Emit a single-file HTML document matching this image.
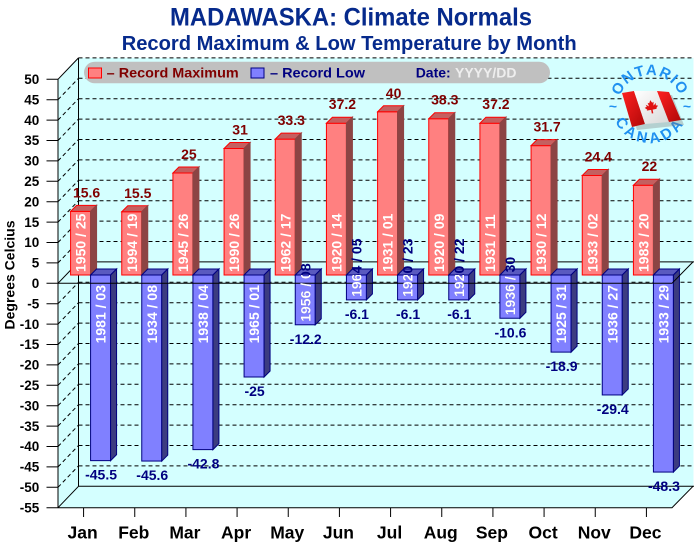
<!DOCTYPE html>
<html><head><meta charset="utf-8"><style>
html,body{margin:0;padding:0;background:#fff;}
svg{display:block;font-family:"Liberation Sans",Arial,sans-serif;font-weight:bold;}
</style></head><body>
<svg width="694" height="545" viewBox="0 0 694 545" xmlns="http://www.w3.org/2000/svg">
<rect x="0" y="0" width="694" height="545" fill="#fff"/>
<!-- walls -->
<rect x="78.5" y="57.9" width="615" height="428.4" fill="#D4FFFF"/>
<polygon points="58,79.3 78.5,57.9 78.5,486.3 58,507.7" fill="#D4FFFF"/>
<polygon points="58,507.7 672,507.7 693,486.3 78.5,486.3" fill="#D4FFFF"/>
<!-- back gridlines -->
<g stroke="#000" stroke-width="1" stroke-dasharray="4,3" fill="none">
<path d="M78.5 57.9H694M78.5 78.3H694M78.5 98.7H694M78.5 119.1H694M78.5 139.5H694M78.5 159.9H694M78.5 180.3H694M78.5 200.7H694M78.5 221.1H694M78.5 241.5H694M78.5 282.3H694M78.5 302.7H694M78.5 323.1H694M78.5 343.5H694M78.5 363.9H694M78.5 384.3H694M78.5 404.7H694M78.5 425.1H694M78.5 445.5H694M78.5 465.9H694"/>
<path d="M58 99.7L78.5 78.3M58 120.1L78.5 98.7M58 140.5L78.5 119.1M58 160.9L78.5 139.5M58 181.3L78.5 159.9M58 201.7L78.5 180.3M58 222.1L78.5 200.7M58 242.5L78.5 221.1M58 262.9L78.5 241.5M58 303.7L78.5 282.3M58 324.1L78.5 302.7M58 344.5L78.5 323.1M58 364.9L78.5 343.5M58 385.3L78.5 363.9M58 405.7L78.5 384.3M58 426.1L78.5 404.7M58 446.5L78.5 425.1M58 466.9L78.5 445.5M58 487.3L78.5 465.9"/>
</g>
<!-- solid frame lines -->
<g stroke="#000" stroke-width="1" fill="none">
<path d="M58 79.3V507.7M58 79.3L78.5 57.9M78.5 57.9V486.3M58 507.7L78.5 486.3M78.5 486.3H694M58 507.7H672L693 486.3"/>
<path d="M78.5 261.9H694M58 283.3L78.5 261.9"/>
</g>
<!-- legend -->
<rect x="84" y="61.7" width="466" height="21.6" rx="10.8" fill="#C0C0C0"/>
<rect x="88.5" y="68" width="13" height="10" fill="#FF8080" stroke="#FF0000"/>
<rect x="251" y="68" width="13" height="10" fill="#8080FF" stroke="#000080"/>
<g font-size="14">
<text x="106.7" y="77.3" fill="#800000" textLength="132" lengthAdjust="spacingAndGlyphs">– Record Maximum</text>
<text x="270" y="77.3" fill="#000080" textLength="95" lengthAdjust="spacingAndGlyphs">– Record Low</text>
<text x="415.7" y="77.3" fill="#000080">Date:</text>
<text x="455" y="77.3" fill="#EEEEEE">YYYY/DD</text>
</g>
<!-- titles -->
<text x="170" y="25.7" font-size="25" fill="#062a8c" textLength="362" lengthAdjust="spacingAndGlyphs">MADAWASKA: Climate Normals</text>
<text x="121.7" y="49.8" font-size="20.5" fill="#062a8c" textLength="455" lengthAdjust="spacingAndGlyphs">Record Maximum &amp; Low Temperature by Month</text>
<!-- logo -->
<defs>
<path id="arcTop" d="M 618,107 A 32 32 0 0 1 682,107" fill="none"/>
<path id="arcBot" d="M 611,104 A 39 39 0 0 0 689,104" fill="none"/>
<linearGradient id="fr" x1="0" y1="0" x2="1" y2="1"><stop offset="0" stop-color="#FF2020"/><stop offset="1" stop-color="#B00808"/></linearGradient>
<linearGradient id="fw" x1="0" y1="0" x2="1" y2="1"><stop offset="0" stop-color="#FFFFFF"/><stop offset="1" stop-color="#D8D8D8"/></linearGradient>
</defs>
<g fill="#2090F0">
<text font-size="15" letter-spacing="1.5"><textPath href="#arcTop" startOffset="50%" text-anchor="middle">ONTARIO</textPath></text>
<text font-size="15" letter-spacing="3.5"><textPath href="#arcBot" startOffset="50%" text-anchor="middle">CANADA</textPath></text>
<text x="613" y="111" font-size="14" text-anchor="middle">~</text>
<text x="687" y="111" font-size="14" text-anchor="middle">~</text>
</g>
<polygon points="626,97 672,95 684,125 637,130" fill="#777" opacity="0.35"/>
<polygon points="622,93 634,91 645,124 632,127" fill="url(#fr)"/>
<polygon points="634,91 657,91 669,122 645,124" fill="url(#fw)"/>
<polygon points="657,91 669,92 681,120 669,122" fill="url(#fr)"/>
<polygon transform="translate(651.5,107.5) rotate(-10) scale(0.75)" fill="#E01010" points="0,-10 2,-6 4,-7 3,-2 7,-5 6,-2 9,-1 6,2 7,3 1,3 1,8 -1,8 -1,3 -7,3 -6,2 -9,-1 -6,-2 -7,-5 -3,-2 -4,-7 -2,-6"/>
<!-- red bars -->
<g fill="#FF8080" stroke="#FF0000" stroke-width="1">
<g transform="translate(70.58,211.35)"><rect x="0" y="0" width="20" height="63.65"/><polygon points="0,0 6,-6 26,-6 20,0" fill="#C46060"/><polygon points="20,0 26,-6 26,57.65 20,63.65" fill="#8C4444" stroke="#8C4444"/></g>
<g transform="translate(121.75,211.76)"><rect x="0" y="0" width="20" height="63.24"/><polygon points="0,0 6,-6 26,-6 20,0" fill="#C46060"/><polygon points="20,0 26,-6 26,57.24 20,63.24" fill="#8C4444" stroke="#8C4444"/></g>
<g transform="translate(172.92,173)"><rect x="0" y="0" width="20" height="102"/><polygon points="0,0 6,-6 26,-6 20,0" fill="#C46060"/><polygon points="20,0 26,-6 26,96 20,102" fill="#8C4444" stroke="#8C4444"/></g>
<g transform="translate(224.08,148.52)"><rect x="0" y="0" width="20" height="126.48"/><polygon points="0,0 6,-6 26,-6 20,0" fill="#C46060"/><polygon points="20,0 26,-6 26,120.48 20,126.48" fill="#8C4444" stroke="#8C4444"/></g>
<g transform="translate(275.25,139.14)"><rect x="0" y="0" width="20" height="135.86"/><polygon points="0,0 6,-6 26,-6 20,0" fill="#C46060"/><polygon points="20,0 26,-6 26,129.86 20,135.86" fill="#8C4444" stroke="#8C4444"/></g>
<g transform="translate(326.42,123.22)"><rect x="0" y="0" width="20" height="151.78"/><polygon points="0,0 6,-6 26,-6 20,0" fill="#C46060"/><polygon points="20,0 26,-6 26,145.78 20,151.78" fill="#8C4444" stroke="#8C4444"/></g>
<g transform="translate(377.58,111.8)"><rect x="0" y="0" width="20" height="163.2"/><polygon points="0,0 6,-6 26,-6 20,0" fill="#C46060"/><polygon points="20,0 26,-6 26,157.2 20,163.2" fill="#8C4444" stroke="#8C4444"/></g>
<g transform="translate(428.75,118.74)"><rect x="0" y="0" width="20" height="156.26"/><polygon points="0,0 6,-6 26,-6 20,0" fill="#C46060"/><polygon points="20,0 26,-6 26,150.26 20,156.26" fill="#8C4444" stroke="#8C4444"/></g>
<g transform="translate(479.92,123.22)"><rect x="0" y="0" width="20" height="151.78"/><polygon points="0,0 6,-6 26,-6 20,0" fill="#C46060"/><polygon points="20,0 26,-6 26,145.78 20,151.78" fill="#8C4444" stroke="#8C4444"/></g>
<g transform="translate(531.08,145.66)"><rect x="0" y="0" width="20" height="129.34"/><polygon points="0,0 6,-6 26,-6 20,0" fill="#C46060"/><polygon points="20,0 26,-6 26,123.34 20,129.34" fill="#8C4444" stroke="#8C4444"/></g>
<g transform="translate(582.25,175.45)"><rect x="0" y="0" width="20" height="99.55"/><polygon points="0,0 6,-6 26,-6 20,0" fill="#C46060"/><polygon points="20,0 26,-6 26,93.55 20,99.55" fill="#8C4444" stroke="#8C4444"/></g>
<g transform="translate(633.42,185.24)"><rect x="0" y="0" width="20" height="89.76"/><polygon points="0,0 6,-6 26,-6 20,0" fill="#C46060"/><polygon points="20,0 26,-6 26,83.76 20,89.76" fill="#8C4444" stroke="#8C4444"/></g>
</g>
<!-- blue bars -->
<g fill="#8080FF" stroke="#000080" stroke-width="1">
<g transform="translate(90.58,275)"><rect x="0" y="0" width="20" height="185.64"/><polygon points="0,0 6,-6 26,-6 20,0" fill="#5A5AC0"/><polygon points="20,0 26,-6 26,179.64 20,185.64" fill="#3C3C80"/></g>
<g transform="translate(141.75,275)"><rect x="0" y="0" width="20" height="186.05"/><polygon points="0,0 6,-6 26,-6 20,0" fill="#5A5AC0"/><polygon points="20,0 26,-6 26,180.05 20,186.05" fill="#3C3C80"/></g>
<g transform="translate(192.92,275)"><rect x="0" y="0" width="20" height="174.62"/><polygon points="0,0 6,-6 26,-6 20,0" fill="#5A5AC0"/><polygon points="20,0 26,-6 26,168.62 20,174.62" fill="#3C3C80"/></g>
<g transform="translate(244.08,275)"><rect x="0" y="0" width="20" height="102"/><polygon points="0,0 6,-6 26,-6 20,0" fill="#5A5AC0"/><polygon points="20,0 26,-6 26,96 20,102" fill="#3C3C80"/></g>
<g transform="translate(295.25,275)"><rect x="0" y="0" width="20" height="49.78"/><polygon points="0,0 6,-6 26,-6 20,0" fill="#5A5AC0"/><polygon points="20,0 26,-6 26,43.78 20,49.78" fill="#3C3C80"/></g>
<g transform="translate(346.42,275)"><rect x="0" y="0" width="20" height="24.89"/><polygon points="0,0 6,-6 26,-6 20,0" fill="#5A5AC0"/><polygon points="20,0 26,-6 26,18.89 20,24.89" fill="#3C3C80"/></g>
<g transform="translate(397.58,275)"><rect x="0" y="0" width="20" height="24.89"/><polygon points="0,0 6,-6 26,-6 20,0" fill="#5A5AC0"/><polygon points="20,0 26,-6 26,18.89 20,24.89" fill="#3C3C80"/></g>
<g transform="translate(448.75,275)"><rect x="0" y="0" width="20" height="24.89"/><polygon points="0,0 6,-6 26,-6 20,0" fill="#5A5AC0"/><polygon points="20,0 26,-6 26,18.89 20,24.89" fill="#3C3C80"/></g>
<g transform="translate(499.92,275)"><rect x="0" y="0" width="20" height="43.25"/><polygon points="0,0 6,-6 26,-6 20,0" fill="#5A5AC0"/><polygon points="20,0 26,-6 26,37.25 20,43.25" fill="#3C3C80"/></g>
<g transform="translate(551.08,275)"><rect x="0" y="0" width="20" height="77.11"/><polygon points="0,0 6,-6 26,-6 20,0" fill="#5A5AC0"/><polygon points="20,0 26,-6 26,71.11 20,77.11" fill="#3C3C80"/></g>
<g transform="translate(602.25,275)"><rect x="0" y="0" width="20" height="119.95"/><polygon points="0,0 6,-6 26,-6 20,0" fill="#5A5AC0"/><polygon points="20,0 26,-6 26,113.95 20,119.95" fill="#3C3C80"/></g>
<g transform="translate(653.42,275)"><rect x="0" y="0" width="20" height="197.06"/><polygon points="0,0 6,-6 26,-6 20,0" fill="#5A5AC0"/><polygon points="20,0 26,-6 26,191.06 20,197.06" fill="#3C3C80"/></g>
</g>
<!-- front zero line -->
<path d="M46.5 283.3H672L693 261.9" stroke="#000" stroke-width="1" fill="none"/>
<!-- red value labels -->
<g font-size="14" fill="#800000" text-anchor="middle">
<text x="86.58" y="197.35">15.6</text>
<text x="137.75" y="197.76">15.5</text>
<text x="188.92" y="159">25</text>
<text x="240.08" y="134.52">31</text>
<text x="291.25" y="125.14">33.3</text>
<text x="342.42" y="109.22">37.2</text>
<text x="393.58" y="97.8">40</text>
<text x="444.75" y="104.74">38.3</text>
<text x="495.92" y="109.22">37.2</text>
<text x="547.08" y="131.66">31.7</text>
<text x="598.25" y="161.45">24.4</text>
<text x="649.42" y="171.24">22</text>
</g>
<!-- blue value labels -->
<g font-size="14" fill="#000080" text-anchor="middle">
<text x="101.08" y="479.64">-45.5</text>
<text x="152.25" y="480.05">-45.6</text>
<text x="203.42" y="468.62">-42.8</text>
<text x="254.58" y="396">-25</text>
<text x="305.75" y="343.78">-12.2</text>
<text x="356.92" y="318.89">-6.1</text>
<text x="408.08" y="318.89">-6.1</text>
<text x="459.25" y="318.89">-6.1</text>
<text x="510.42" y="337.25">-10.6</text>
<text x="561.58" y="371.11">-18.9</text>
<text x="612.75" y="413.95">-29.4</text>
<text x="663.92" y="491.06">-48.3</text>
</g>
<!-- red date labels -->
<g font-size="14" fill="#FFFFFF">
<text transform="translate(80.58,272) rotate(-90)" x="0" y="5">1950 / 25</text>
<text transform="translate(131.75,272) rotate(-90)" x="0" y="5">1994 / 19</text>
<text transform="translate(182.92,272) rotate(-90)" x="0" y="5">1945 / 26</text>
<text transform="translate(234.08,272) rotate(-90)" x="0" y="5">1990 / 26</text>
<text transform="translate(285.25,272) rotate(-90)" x="0" y="5">1962 / 17</text>
<text transform="translate(336.42,272) rotate(-90)" x="0" y="5">1920 / 14</text>
<text transform="translate(387.58,272) rotate(-90)" x="0" y="5">1931 / 01</text>
<text transform="translate(438.75,272) rotate(-90)" x="0" y="5">1920 / 09</text>
<text transform="translate(489.92,272) rotate(-90)" x="0" y="5">1931 / 11</text>
<text transform="translate(541.08,272) rotate(-90)" x="0" y="5">1930 / 12</text>
<text transform="translate(592.25,272) rotate(-90)" x="0" y="5">1933 / 02</text>
<text transform="translate(643.42,272) rotate(-90)" x="0" y="5">1983 / 20</text>
</g>
<!-- blue date labels (long bars) -->
<g font-size="14" fill="#FFFFFF" text-anchor="end">
<text transform="translate(100.58,285) rotate(-90)" x="0" y="5">1981 / 03</text>
<text transform="translate(151.75,285) rotate(-90)" x="0" y="5">1934 / 08</text>
<text transform="translate(202.92,285) rotate(-90)" x="0" y="5">1938 / 04</text>
<text transform="translate(254.08,285) rotate(-90)" x="0" y="5">1965 / 01</text>
<text transform="translate(561.08,285) rotate(-90)" x="0" y="5">1925 / 31</text>
<text transform="translate(612.25,285) rotate(-90)" x="0" y="5">1936 / 27</text>
<text transform="translate(663.42,285) rotate(-90)" x="0" y="5">1933 / 29</text>
</g>
<!-- blue date labels (short bars): navy outside, white inside -->
<defs>
<clipPath id="c4"><rect x="295.25" y="275" width="20" height="49.78"/></clipPath>
<clipPath id="c5"><rect x="346.42" y="275" width="20" height="24.89"/></clipPath>
<clipPath id="c6"><rect x="397.58" y="275" width="20" height="24.89"/></clipPath>
<clipPath id="c7"><rect x="448.75" y="275" width="20" height="24.89"/></clipPath>
<clipPath id="c8"><rect x="499.92" y="275" width="20" height="43.25"/></clipPath>
</defs>
<g font-size="14" fill="#000080">
<text transform="translate(305.25,321.78) rotate(-90)" x="0" y="5">1956 / 08</text>
<text transform="translate(356.42,296.89) rotate(-90)" x="0" y="5">1964 / 05</text>
<text transform="translate(407.58,296.89) rotate(-90)" x="0" y="5">1920 / 23</text>
<text transform="translate(458.75,296.89) rotate(-90)" x="0" y="5">1920 / 22</text>
<text transform="translate(509.92,315.25) rotate(-90)" x="0" y="5">1936 / 30</text>
</g>
<g font-size="14" fill="#FFFFFF">
<g clip-path="url(#c4)"><text transform="translate(305.25,321.78) rotate(-90)" x="0" y="5">1956 / 08</text></g>
<g clip-path="url(#c5)"><text transform="translate(356.42,296.89) rotate(-90)" x="0" y="5">1964 / 05</text></g>
<g clip-path="url(#c6)"><text transform="translate(407.58,296.89) rotate(-90)" x="0" y="5">1920 / 23</text></g>
<g clip-path="url(#c7)"><text transform="translate(458.75,296.89) rotate(-90)" x="0" y="5">1920 / 22</text></g>
<g clip-path="url(#c8)"><text transform="translate(509.92,315.25) rotate(-90)" x="0" y="5">1936 / 30</text></g>
</g>
<!-- y ticks -->
<path stroke="#000" stroke-width="1" fill="none" d="M46.5 79.3H58M46.5 99.7H58M46.5 120.1H58M46.5 140.5H58M46.5 160.9H58M46.5 181.3H58M46.5 201.7H58M46.5 222.1H58M46.5 242.5H58M46.5 262.9H58M46.5 303.7H58M46.5 324.1H58M46.5 344.5H58M46.5 364.9H58M46.5 385.3H58M46.5 405.7H58M46.5 426.1H58M46.5 446.5H58M46.5 466.9H58M46.5 487.3H58M46.5 507.7H58"/>
<g font-size="13.5" fill="#000" text-anchor="end">
<text x="39.3" y="84">50</text>
<text x="39.3" y="104.4">45</text>
<text x="39.3" y="124.8">40</text>
<text x="39.3" y="145.2">35</text>
<text x="39.3" y="165.6">30</text>
<text x="39.3" y="186">25</text>
<text x="39.3" y="206.4">20</text>
<text x="39.3" y="226.8">15</text>
<text x="39.3" y="247.2">10</text>
<text x="39.3" y="267.6">5</text>
<text x="39.3" y="288">0</text>
<text x="39.3" y="308.4">-5</text>
<text x="39.3" y="328.8">-10</text>
<text x="39.3" y="349.2">-15</text>
<text x="39.3" y="369.6">-20</text>
<text x="39.3" y="390">-25</text>
<text x="39.3" y="410.4">-30</text>
<text x="39.3" y="430.8">-35</text>
<text x="39.3" y="451.2">-40</text>
<text x="39.3" y="471.6">-45</text>
<text x="39.3" y="492">-50</text>
<text x="39.3" y="512.4">-55</text>
</g>
<text transform="translate(14.5,275) rotate(-90)" x="0" y="0" font-size="14" text-anchor="middle" fill="#000">Degrees Celcius</text>
<!-- month ticks -->
<path stroke="#000" stroke-width="1" fill="none" d="M83.58 507.7V517M134.75 507.7V517M185.92 507.7V517M237.08 507.7V517M288.25 507.7V517M339.42 507.7V517M390.58 507.7V517M441.75 507.7V517M492.92 507.7V517M544.08 507.7V517M595.25 507.7V517M646.42 507.7V517"/>
<g font-size="17.5" fill="#000" text-anchor="middle">
<text x="82.58" y="538.3">Jan</text>
<text x="133.75" y="538.3">Feb</text>
<text x="184.92" y="538.3">Mar</text>
<text x="236.08" y="538.3">Apr</text>
<text x="287.25" y="538.3">May</text>
<text x="338.42" y="538.3">Jun</text>
<text x="389.58" y="538.3">Jul</text>
<text x="440.75" y="538.3">Aug</text>
<text x="491.92" y="538.3">Sep</text>
<text x="543.08" y="538.3">Oct</text>
<text x="594.25" y="538.3">Nov</text>
<text x="645.42" y="538.3">Dec</text>
</g>
</svg>
</body></html>
